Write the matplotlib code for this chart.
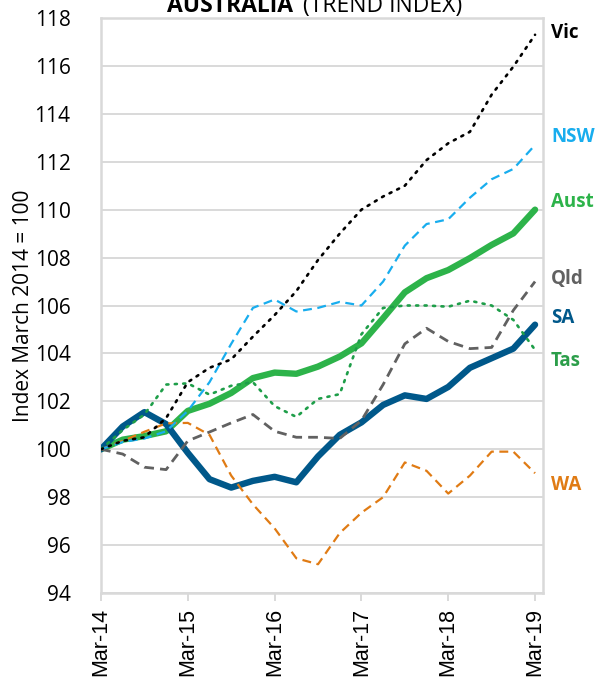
import matplotlib
matplotlib.use("Agg")
import matplotlib.pyplot as plt
import numpy as np

# quarterly observations, months since Mar-14
months = np.arange(0, 61, 3)
tick_months = [0, 12, 24, 36, 48, 60]
tick_labels = ["Mar-14", "Mar-15", "Mar-16", "Mar-17", "Mar-18", "Mar-19"]

aust = [100.0, 100.4, 100.55, 100.75, 101.6, 101.9, 102.35, 102.97, 103.2, 103.15, 103.45,
        103.87, 104.42, 105.47, 106.55, 107.14, 107.48, 107.98, 108.53, 109.01, 110.0]
vic = [100.0, 100.35, 100.5, 101.3, 102.8, 103.4, 103.75, 104.7, 105.6, 106.6, 107.9,
       109.0, 110.0, 110.55, 111.0, 112.07, 112.77, 113.25, 114.8, 115.97, 117.3]
nsw = [100.0, 100.3, 100.45, 100.75, 101.6, 102.8, 104.4, 105.9, 106.25, 105.75, 105.9,
       106.15, 106.0, 107.0, 108.5, 109.4, 109.6, 110.5, 111.27, 111.7, 112.7]
qld = [100.0, 99.8, 99.25, 99.15, 100.35, 100.72, 101.1, 101.45, 100.75, 100.5, 100.5,
       100.45, 101.2, 102.7, 104.4, 105.05, 104.5, 104.2, 104.25, 105.8, 107.0]
sa = [100.0, 100.95, 101.55, 101.05, 99.85, 98.75, 98.4, 98.68, 98.85, 98.62, 99.7,
      100.6, 101.12, 101.85, 102.25, 102.1, 102.6, 103.4, 103.8, 104.2, 105.2]
tas = [100.0, 100.8, 101.45, 102.7, 102.75, 102.28, 102.65, 102.8, 101.8, 101.35, 102.1,
       102.3, 104.8, 105.9, 106.0, 106.0, 105.95, 106.2, 106.0, 105.4, 104.15]
wa = [100.0, 100.35, 100.73, 101.08, 101.1, 100.6, 98.9, 97.7, 96.7, 95.45, 95.2,
      96.5, 97.35, 98.0, 99.45, 99.1, 98.15, 98.9, 99.9, 99.9, 99.0]

fig = plt.figure(figsize=(5.98, 6.8), dpi=100)
ax = fig.add_axes([101/598, 1-593/680, 442/598, 575/680])

grid_col = "#D9D9D9"

# thick series first, thin ones on top
ax.plot(months, aust, color="#2DB34A", lw=4.6, solid_capstyle="round", zorder=3)
ax.plot(months, sa, color="#00588A", lw=4.6, solid_capstyle="round", zorder=4)
ax.plot(months, qld, color="#616161", lw=2.0, dashes=(3.5, 2.2), zorder=5)
ax.plot(months, wa, color="#E07B14", lw=1.6, dashes=(4, 2.5), zorder=5)
ax.plot(months, nsw, color="#18ADEE", lw=1.6, dashes=(4, 2.5), zorder=5)
ax.plot(months, tas, color="#1E9E49", lw=1.9, ls=(0, (0.8, 2.4)), dash_capstyle="round", zorder=6)
ax.plot(months, vic, color="black", lw=1.9, ls=(0, (0.8, 2.4)), dash_capstyle="round", zorder=6)

ax.set_xlim(0, 61.1)
ax.set_ylim(94, 118)
ax.set_yticks(np.arange(94, 119, 2))
ax.grid(axis="y", color=grid_col, lw=1.4, zorder=0)
ax.set_axisbelow(True)
for s in ax.spines.values():
    s.set_color(grid_col)
    s.set_linewidth(1.8)

ax.set_xticks(tick_months)
ax.set_xticklabels(tick_labels, rotation=90, fontsize=15.5, family="Liberation Sans")
ax.tick_params(axis="x", length=6, width=1.4, color=grid_col, pad=5)
ax.tick_params(axis="y", length=0, pad=22, labelsize=15)
for lab in ax.get_yticklabels():
    lab.set_family("Open Sans")

ax.set_ylabel("Index March 2014 = 100", fontsize=15, family="Open Sans", labelpad=0)

# series labels at right
labels = ["Vic", "NSW", "Aust", "Qld", "SA", "Tas", "WA"]
label_y = [117.37, 113.03, 110.32, 107.1, 105.46, 103.67, 98.5]
label_col = ["black", "#18ADEE", "#2DB34A", "#616161", "#00588A", "#2C9E4A", "#E07B14"]
for t, yv, c in zip(labels, label_y, label_col):
    ax.text(62.2, yv, t, color=c, fontsize=13.5, fontweight="bold", family="Open Sans",
            va="center", ha="left", clip_on=False)

# title, partly above the image (as in the source)
fig.text(167/598, 1-12/680, "AUSTRALIA", fontsize=16.5, fontweight="bold",
         family="Open Sans", va="baseline", ha="left")
fig.text(303/598, 1-12/680, "(TREND INDEX)", fontsize=16.5, family="Open Sans",
         va="baseline", ha="left")

plt.savefig("out.png", dpi=100)
